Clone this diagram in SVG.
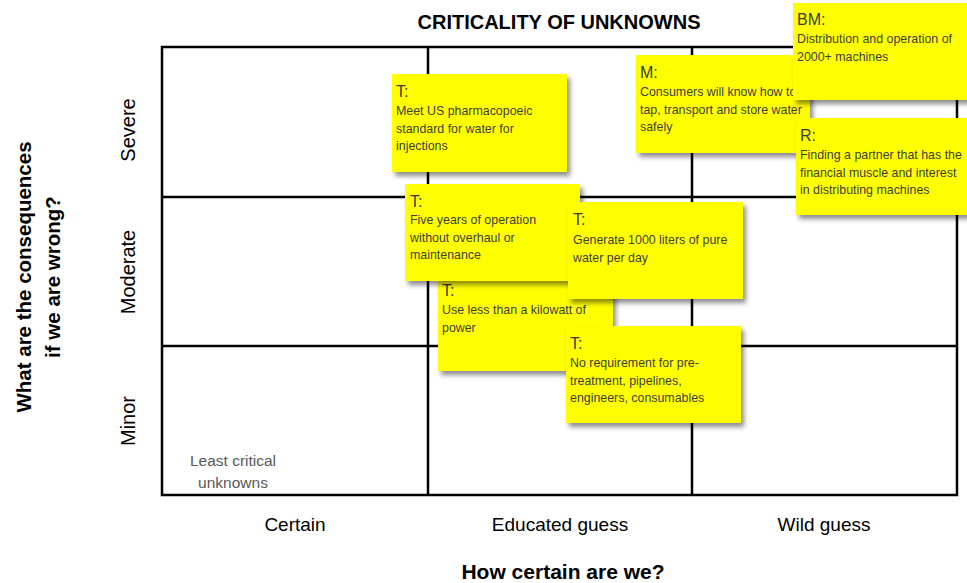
<svg xmlns="http://www.w3.org/2000/svg" width="967" height="583" viewBox="0 0 967 583">
  <style>
    .grid { fill: none; stroke: #000; stroke-width: 2.5; }
    .title { font-family: "Liberation Sans", Arial, sans-serif; font-weight: bold; font-size: 20px; fill: #000; text-anchor: middle; }
    .axis { font-family: "Liberation Sans", Arial, sans-serif; font-size: 19px; fill: #000; text-anchor: middle; }
    .row { font-size: 20px; }
    .least { font-family: "Liberation Sans", Arial, sans-serif; font-size: 15.5px; fill: #595959; text-anchor: middle; }
    .note rect { fill: #ffff00; filter: url(#shadow); }
    .note .hd { font-family: "Liberation Sans", Arial, sans-serif; font-size: 16px; fill: #3a3a3a; }
    .note .bd { font-family: "Liberation Sans", Arial, sans-serif; font-size: 12.4px; fill: #404040; }
  </style>
  <defs>
    <filter id="shadow" x="-10%" y="-10%" width="130%" height="130%">
      <feDropShadow dx="3" dy="4" stdDeviation="2.5" flood-color="#000" flood-opacity="0.45"/>
    </filter>
  </defs>

  <!-- matrix frame and cell dividers -->
  <g id="grid">
    <rect class="grid" x="162" y="47" width="795" height="448"/>
    <line class="grid" x1="428" y1="47" x2="428" y2="495"/>
    <line class="grid" x1="692" y1="47" x2="692" y2="495"/>
    <line class="grid" x1="162" y1="197" x2="957" y2="197"/>
    <line class="grid" x1="162" y1="346" x2="957" y2="346"/>
  </g>

  <!-- axis titles and category labels -->
  <g id="labels">
    <text class="title" x="559" y="29">CRITICALITY OF UNKNOWNS</text>
    <text class="title" x="563" y="579" style="font-size:21px">How certain are we?</text>
    <text class="title" style="font-size:20.5px" transform="translate(31,277) rotate(-90)">What are the consequences</text>
    <text class="title" style="font-size:20.5px" transform="translate(60,277) rotate(-90)">if we are wrong?</text>
    <text class="axis" x="295" y="531">Certain</text>
    <text class="axis" x="560" y="531">Educated guess</text>
    <text class="axis" x="824" y="531">Wild guess</text>
    <text class="axis row" transform="translate(135,130) rotate(-90)">Severe</text>
    <text class="axis row" transform="translate(135,272) rotate(-90)">Moderate</text>
    <text class="axis row" transform="translate(135,421) rotate(-90)">Minor</text>
    <text class="least" x="233" y="466">Least critical</text>
    <text class="least" x="233" y="488">unknowns</text>
  </g>

  <!-- sticky notes, back to front -->
  <g id="note-pharma" class="note">
    <rect x="392" y="74" width="175" height="98"/>
    <text class="hd" x="396" y="97">T:</text>
    <text class="bd" x="396" y="115">Meet US pharmacopoeic</text>
    <text class="bd" x="396" y="132.5">standard for water for</text>
    <text class="bd" x="396" y="150">injections</text>
  </g>

  <g id="note-consumers" class="note">
    <rect x="636" y="55" width="174" height="98"/>
    <text class="hd" x="640" y="78">M:</text>
    <text class="bd" x="640" y="96">Consumers will know how to</text>
    <text class="bd" x="640" y="113.5">tap, transport and store water</text>
    <text class="bd" x="640" y="131">safely</text>
  </g>

  <g id="note-distribution" class="note">
    <rect x="793" y="3" width="180" height="97"/>
    <text class="hd" x="797" y="25">BM:</text>
    <text class="bd" x="797" y="43">Distribution and operation of</text>
    <text class="bd" x="797" y="61">2000+ machines</text>
  </g>

  <g id="note-partner" class="note">
    <rect x="796" y="118" width="177" height="97"/>
    <text class="hd" x="800" y="141">R:</text>
    <text class="bd" x="800" y="159">Finding a partner that has the</text>
    <text class="bd" x="800" y="176.5">financial muscle and interest</text>
    <text class="bd" x="800" y="194">in distributing machines</text>
  </g>

  <g id="note-power" class="note">
    <rect x="438" y="273" width="175" height="98"/>
    <text class="hd" x="442" y="296">T:</text>
    <text class="bd" x="442" y="314">Use less than a kilowatt of</text>
    <text class="bd" x="442" y="331.5">power</text>
  </g>

  <g id="note-lifetime" class="note">
    <rect x="405" y="184" width="175" height="97"/>
    <text class="hd" x="410" y="207">T:</text>
    <text class="bd" x="410" y="224">Five years of operation</text>
    <text class="bd" x="410" y="241.5">without overhaul or</text>
    <text class="bd" x="410" y="259">maintenance</text>
  </g>

  <g id="note-output" class="note">
    <rect x="568" y="202" width="175" height="97"/>
    <text class="hd" x="573" y="225">T:</text>
    <text class="bd" x="573" y="244">Generate 1000 liters of pure</text>
    <text class="bd" x="573" y="261.5">water per day</text>
  </g>

  <g id="note-standalone" class="note">
    <rect x="566" y="326" width="175" height="97"/>
    <text class="hd" x="570" y="349">T:</text>
    <text class="bd" x="570" y="367">No requirement for pre-</text>
    <text class="bd" x="570" y="384.5">treatment, pipelines,</text>
    <text class="bd" x="570" y="402">engineers, consumables</text>
  </g>

  <!-- the matrix has no connectors -->
  <g id="connectors"/>
</svg>
